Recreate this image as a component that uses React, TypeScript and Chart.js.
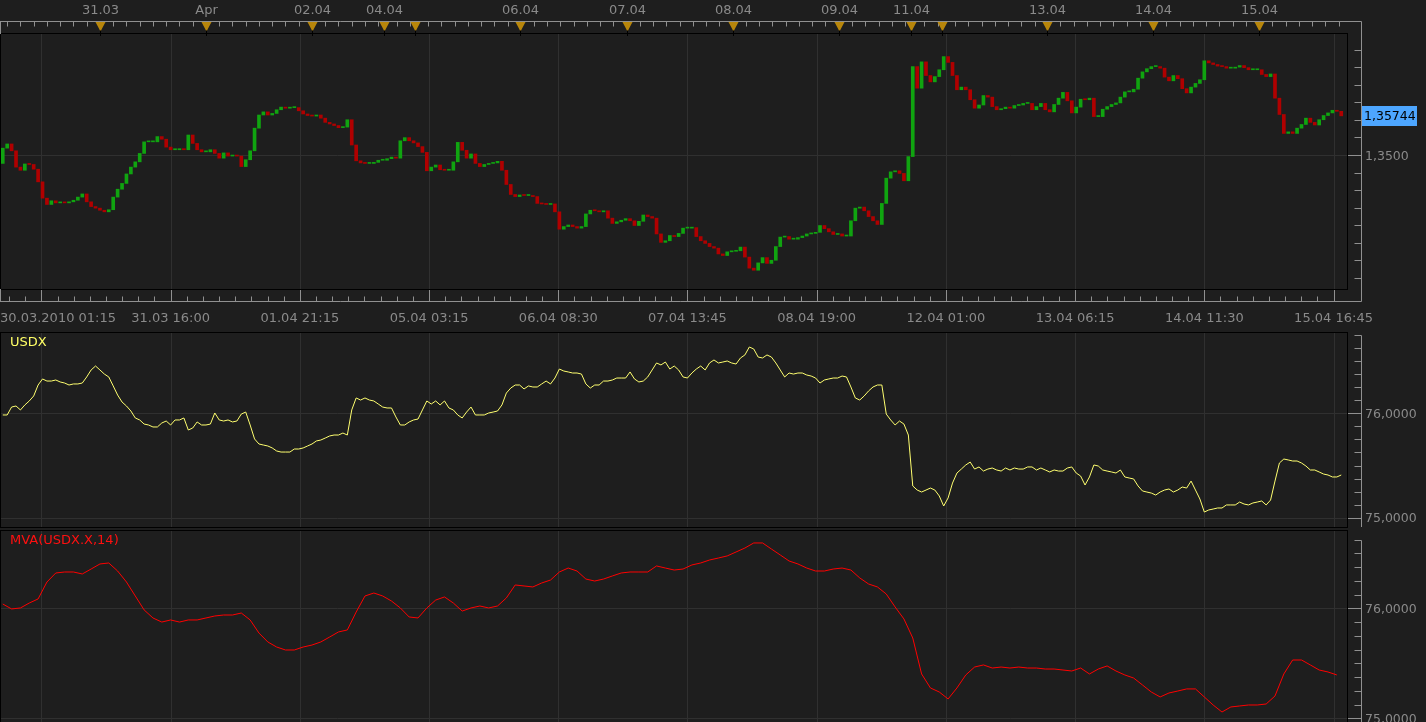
import React, { useEffect, useRef } from 'react';
import { Chart, registerables } from 'chart.js';

Chart.register(...registerables);

// ---------------- data ----------------
// x axis = trading hours since 30.03.2010 00:00 (weekend gaps removed)
const X_MIN = 1.6;
const X_MAX = 306.3;
const FIRST_HOUR = 2; // hour index of the first hourly bar

const eurusdFirstOpen = 1.3484;
const eurusdClose = [
  1.3513, 1.3521, 1.3508, 1.3477, 1.3471, 1.3483, 1.3482, 1.3473, 1.3449, 1.3418,
  1.3406, 1.3413, 1.3409, 1.3410, 1.3409, 1.3411, 1.3414, 1.3420, 1.3426, 1.3411,
  1.3402, 1.3399, 1.3395, 1.3392, 1.3396, 1.3420, 1.3435, 1.3446, 1.3464, 1.3477,
  1.3487, 1.3503, 1.3525, 1.3525, 1.3525, 1.3535, 1.3530, 1.3515, 1.3510, 1.3510,
  1.3512, 1.3510, 1.3538, 1.3522, 1.3510, 1.3506, 1.3506, 1.3510, 1.3503, 1.3494,
  1.3504, 1.3498, 1.3499, 1.3498, 1.3478, 1.3491, 1.3508, 1.3551, 1.3576, 1.3582,
  1.3576, 1.3579, 1.3586, 1.3591, 1.3589, 1.3590, 1.3590, 1.3584, 1.3578, 1.3575,
  1.3574, 1.3576, 1.3570, 1.3562, 1.3559, 1.3556, 1.3552, 1.3553, 1.3567, 1.3519,
  1.3489, 1.3485, 1.3484, 1.3484, 1.3486, 1.3490, 1.3490, 1.3493, 1.3496, 1.3494,
  1.3527, 1.3533, 1.3527, 1.3523, 1.3516, 1.3505, 1.3470, 1.3477, 1.3481, 1.3472,
  1.3471, 1.3471, 1.3487, 1.3524, 1.3509, 1.3494, 1.3502, 1.3484, 1.3478, 1.3482,
  1.3484, 1.3485, 1.3488, 1.3471, 1.3444, 1.3425, 1.3421, 1.3424, 1.3423, 1.3423,
  1.3421, 1.3408, 1.3407, 1.3406, 1.3407, 1.3392, 1.3359, 1.3364, 1.3367, 1.3364,
  1.3361, 1.3364, 1.3388, 1.3395, 1.3394, 1.3392, 1.3394, 1.3380, 1.3370, 1.3373,
  1.3376, 1.3379, 1.3375, 1.3366, 1.3374, 1.3386, 1.3383, 1.3380, 1.3350, 1.3334,
  1.3337, 1.3347, 1.3345, 1.3351,
  1.3361, 1.3361, 1.3362, 1.3345, 1.3337, 1.3332, 1.3326, 1.3323, 1.3312, 1.3309,
  1.3316, 1.3317, 1.3318, 1.3325, 1.3306, 1.3285, 1.3281, 1.3295, 1.3305, 1.3294,
  1.3300, 1.3326, 1.3344, 1.3345, 1.3340, 1.3340, 1.3343, 1.3346, 1.3350, 1.3351,
  1.3353, 1.3366, 1.3360, 1.3354, 1.3349, 1.3350, 1.3346, 1.3346, 1.3375, 1.3399,
  1.3401, 1.3394, 1.3383, 1.3375, 1.3368, 1.3408, 1.3456, 1.3468, 1.3470, 1.3465,
  1.3451, 1.3497, 1.3668, 1.3627, 1.3677, 1.3651, 1.3639, 1.3649, 1.3662, 1.3687,
  1.3676, 1.3651, 1.3624, 1.3629, 1.3624, 1.3605, 1.3589, 1.3595, 1.3613, 1.3610,
  1.3592, 1.3586, 1.3588, 1.3591, 1.3589, 1.3594, 1.3595, 1.3598, 1.3598, 1.3586,
  1.3592, 1.3598, 1.3586, 1.3582, 1.3596, 1.3608, 1.3619, 1.3603, 1.3580, 1.3591,
  1.3606, 1.3605, 1.3608, 1.3573, 1.3573, 1.3587, 1.3592, 1.3596, 1.3599, 1.3610,
  1.3620, 1.3620, 1.3625, 1.3646, 1.3658, 1.3664, 1.3668, 1.3668, 1.3665, 1.3648,
  1.3641, 1.3651, 1.3645, 1.3626, 1.3618, 1.3629, 1.3636, 1.3643, 1.3679, 1.3675,
  1.3672, 1.3669, 1.3668, 1.3665, 1.3665, 1.3667, 1.3670, 1.3666, 1.3662, 1.3662,
  1.3662, 1.3653, 1.3649, 1.3654, 1.3608, 1.3577, 1.3541, 1.3544, 1.3541, 1.3551,
  1.3558, 1.3570, 1.3562, 1.3557, 1.3567, 1.3575, 1.3580, 1.3585, 1.3583, 1.35744,
];

const usdx = [
  75.984, 75.984, 76.060, 76.070, 76.032, 76.080, 76.118, 76.166, 76.271, 76.329,
  76.309, 76.309, 76.319, 76.300, 76.290, 76.271, 76.281, 76.281, 76.290, 76.348,
  76.415, 76.453, 76.415, 76.376, 76.348, 76.262, 76.175, 76.108, 76.070, 76.022,
  75.955, 75.936, 75.897, 75.888, 75.869, 75.869, 75.907, 75.926, 75.888, 75.936,
  75.936, 75.955, 75.840, 75.859, 75.917, 75.888, 75.888, 75.897, 76.003, 75.936,
  75.926, 75.936, 75.917, 75.926, 75.993, 76.012, 75.888, 75.754, 75.706, 75.696,
  75.687, 75.668, 75.639, 75.629, 75.629, 75.629, 75.658, 75.658, 75.668, 75.687,
  75.706, 75.735, 75.744, 75.763, 75.783, 75.792, 75.792, 75.811, 75.792, 76.032,
  76.147, 76.127, 76.147, 76.127, 76.118, 76.089, 76.060, 76.051, 76.051, 75.965,
  75.888, 75.888, 75.917, 75.936, 75.945, 76.032, 76.118, 76.089, 76.118, 76.080,
  76.118, 76.051, 76.032, 75.984, 75.955, 76.012, 76.060, 75.984, 75.984, 75.984,
  76.003, 76.012, 76.022, 76.080, 76.194, 76.242, 76.271, 76.271, 76.233, 76.262,
  76.252, 76.252, 76.281, 76.309, 76.281, 76.338, 76.424, 76.405, 76.396, 76.386,
  76.386, 76.376, 76.281, 76.242, 76.271, 76.271, 76.309, 76.309, 76.319, 76.338,
  76.338, 76.338, 76.396, 76.329, 76.300, 76.309, 76.348, 76.415, 76.482, 76.463,
  76.491, 76.424, 76.453, 76.415, 76.348, 76.338, 76.386, 76.424, 76.453, 76.415,
  76.482, 76.511, 76.482, 76.491, 76.501, 76.482, 76.472, 76.530, 76.559, 76.635,
  76.616, 76.539, 76.530, 76.559, 76.539, 76.482, 76.415, 76.348, 76.386, 76.376,
  76.386, 76.386, 76.367, 76.357, 76.338, 76.290, 76.319, 76.329, 76.338, 76.338,
  76.357, 76.348, 76.252, 76.147, 76.127, 76.166, 76.214, 76.252, 76.271, 76.271,
  75.993, 75.936, 75.888, 75.926, 75.897, 75.792, 75.304, 75.265, 75.246, 75.265,
  75.284, 75.265, 75.208, 75.112, 75.189, 75.332, 75.428, 75.466, 75.505, 75.533,
  75.466, 75.486, 75.447, 75.466, 75.476, 75.457, 75.447, 75.476, 75.457, 75.476,
  75.466, 75.466, 75.486, 75.486, 75.457, 75.476, 75.457, 75.438, 75.457, 75.447,
  75.447, 75.476, 75.486, 75.428, 75.399, 75.313, 75.390, 75.505, 75.495, 75.457,
  75.447, 75.438, 75.428, 75.457, 75.390, 75.380, 75.371, 75.304, 75.256, 75.246,
  75.236, 75.217, 75.246, 75.265, 75.275, 75.246, 75.265, 75.294, 75.284, 75.351,
  75.265, 75.179, 75.054, 75.074, 75.083, 75.093, 75.093, 75.122, 75.122, 75.122,
  75.150, 75.131, 75.122, 75.141, 75.150, 75.160, 75.122, 75.169, 75.351, 75.524,
  75.562, 75.553, 75.543, 75.543, 75.524, 75.495, 75.457, 75.457, 75.438, 75.418,
  75.409, 75.390, 75.390, 75.409,
];

const MVA_FIRST_HOUR = 2;
const MVA_STEP_HOURS = 2;
const mva = [
  76.039, 75.994, 76.003, 76.048, 76.085, 76.239, 76.321, 76.330, 76.330, 76.312,
  76.357, 76.403, 76.412, 76.339, 76.239, 76.112, 75.985, 75.912, 75.875, 75.894,
  75.875, 75.894, 75.894, 75.912, 75.930, 75.939, 75.939, 75.957, 75.894, 75.775,
  75.694, 75.648, 75.621, 75.621, 75.648, 75.666, 75.694, 75.739, 75.785, 75.803,
  75.966, 76.112, 76.139, 76.112, 76.066, 76.003, 75.921, 75.912, 76.003, 76.075,
  76.103, 76.048, 75.975, 76.003, 76.021, 76.003, 76.021, 76.094, 76.212, 76.203,
  76.194, 76.230, 76.257, 76.330, 76.366, 76.339, 76.266, 76.248, 76.266, 76.294,
  76.321, 76.330, 76.330, 76.330, 76.385, 76.366, 76.348, 76.357, 76.394, 76.412,
  76.439, 76.457, 76.476, 76.512, 76.548, 76.594, 76.594, 76.539, 76.485, 76.430,
  76.403, 76.366, 76.339, 76.339, 76.357, 76.366, 76.348, 76.276, 76.221, 76.194,
  76.130, 76.012, 75.903, 75.730, 75.403, 75.276, 75.239, 75.176, 75.276, 75.394,
  75.466, 75.485, 75.457, 75.466, 75.457, 75.466, 75.457, 75.457, 75.448, 75.448,
  75.439, 75.430, 75.457, 75.403, 75.448, 75.476, 75.430, 75.394, 75.366, 75.303,
  75.239, 75.194, 75.230, 75.248, 75.267, 75.267, 75.194, 75.121, 75.057, 75.103,
  75.112, 75.121, 75.121, 75.130, 75.203, 75.403, 75.530, 75.530, 75.485, 75.439,
  75.421, 75.394,
];

const dayMarkHours = [24, 48, 72, 88.3, 95.3, 119.2, 143.2, 167.2, 191.3, 207.6, 214.6, 238.4, 262.4, 286.4];
const dayMarkLabels = ['31.03', 'Apr', '02.04', '04.04', '', '06.04', '07.04', '08.04', '09.04', '11.04', '', '13.04', '14.04', '15.04'];
const gridHours = [10.75, 40, 69.25, 98.5, 127.75, 157, 186.25, 215.5, 244.75, 274, 303.25];
const gridLabels = ['30.03.2010 01:15', '31.03 16:00', '01.04 21:15', '05.04 03:15', '06.04 08:30', '07.04 13:45', '08.04 19:00', '12.04 01:00', '13.04 06:15', '14.04 11:30', '15.04 16:45'];
const priceMajorTicks = [1.35];
const usdxMajorTicks = [75, 76];
const lastPriceLabel = '1,35744';

// ---------------- style ----------------
const BG = '#1e1e1e';
const GRID = '#303030';
const TEXT = '#8a8a8a';
const RULER = '#909090';
const GOLD = '#b8860b';
const UP = '#10a410';
const DOWN = '#b00000';
const FONT = '13px "DejaVu Sans"';
const PRICE_FONT = '12.5px "DejaVu Sans"';
const AX = 1361.5;

const fmtComma = (digits: number) => (v: number) => v.toFixed(digits).replace('.', ',');

type PanelOpts = {
  id: string;
  step: number;
  majors: number[];
  fmt: (v: number) => string;
  axisFrom?: number;
  axisTo: number;
  legend?: { text: string; color: string; y: number };
  topRuler?: boolean;
  bottomRuler?: boolean;
  last?: { value: number; text: string };
};

function panelPlugin(o: PanelOpts) {
  return {
    id: o.id,
    beforeDatasetsDraw(chart: any) {
      const { ctx, chartArea: a } = chart;
      const xs = chart.scales.x;
      const ys = chart.scales.y;
      ctx.save();
      ctx.beginPath();
      ctx.rect(a.left, a.top, a.right - a.left, a.bottom - a.top);
      ctx.clip();
      ctx.strokeStyle = GRID;
      ctx.lineWidth = 1;
      ctx.beginPath();
      for (const h of gridHours) {
        const px = Math.round(xs.getPixelForValue(h)) + 0.5;
        ctx.moveTo(px, a.top);
        ctx.lineTo(px, a.bottom);
      }
      for (const v of o.majors) {
        const py = Math.round(ys.getPixelForValue(v)) + 0.5;
        ctx.moveTo(a.left, py);
        ctx.lineTo(a.right, py);
      }
      ctx.stroke();
      ctx.restore();
    },
    afterDraw(chart: any) {
      const { ctx, chartArea: a } = chart;
      const xs = chart.scales.x;
      const ys = chart.scales.y;
      ctx.save();
      ctx.lineWidth = 1;
      // panel frame
      ctx.strokeStyle = '#000000';
      ctx.strokeRect(a.left - 0.5, a.top - 0.5, a.right - a.left + 1, a.bottom - a.top + 1);

      // right value axis
      ctx.strokeStyle = RULER;
      ctx.beginPath();
      const i0 = Math.ceil(ys.min / o.step - 1e-6);
      const i1 = Math.floor(ys.max / o.step + 1e-6);
      let topTick = Infinity;
      for (let i = i0; i <= i1; i++) {
        const v = i * o.step;
        const py = Math.round(ys.getPixelForValue(v)) + 0.5;
        if (py < a.top || py > a.bottom) continue;
        topTick = Math.min(topTick, py);
        const major = o.majors.some((m) => Math.abs(m - v) < 1e-9);
        ctx.moveTo(major ? a.right + 1 : AX - 7, py);
        ctx.lineTo(AX, py);
      }
      const from = o.axisFrom !== undefined ? o.axisFrom : topTick;
      ctx.moveTo(AX, from);
      ctx.lineTo(AX, o.axisTo);
      ctx.stroke();

      ctx.font = PRICE_FONT;
      ctx.fillStyle = TEXT;
      ctx.textAlign = 'left';
      ctx.textBaseline = 'middle';
      for (const m of o.majors) {
        const py = ys.getPixelForValue(m);
        ctx.fillText(o.fmt(m), 1365, py + 1.5);
      }

      if (o.last) {
        const py = Math.round(ys.getPixelForValue(o.last.value));
        ctx.fillStyle = '#4da6ff';
        ctx.fillRect(1362, py - 10, 55, 20);
        ctx.fillStyle = '#000000';
        ctx.fillText(o.last.text, 1364, py + 1);
      }

      if (o.legend) {
        ctx.font = FONT;
        ctx.fillStyle = o.legend.color;
        ctx.fillText(o.legend.text, 10, o.legend.y);
      }

      if (o.topRuler) {
        const RY = 21.5;
        ctx.strokeStyle = RULER;
        ctx.beginPath();
        ctx.moveTo(0, RY);
        ctx.lineTo(AX, RY);
        ctx.moveTo(0.5, RY);
        ctx.lineTo(0.5, a.top);
        const starts = [0, ...dayMarkHours];
        for (let d = 0; d < starts.length; d++) {
          const end = d + 1 < starts.length ? starts[d + 1] : X_MAX;
          for (let h = starts[d] + 3; h < end - 0.5; h += 3) {
            if (h < X_MIN) continue;
            const px = Math.round(xs.getPixelForValue(h)) + 0.5;
            ctx.moveTo(px, RY);
            ctx.lineTo(px, RY + 5);
          }
        }
        ctx.stroke();
        ctx.font = FONT;
        ctx.textAlign = 'center';
        for (let i = 0; i < dayMarkHours.length; i++) {
          const px = Math.round(xs.getPixelForValue(dayMarkHours[i])) + 0.5;
          ctx.fillStyle = GOLD;
          ctx.beginPath();
          ctx.moveTo(px - 5, RY + 0.5);
          ctx.lineTo(px + 5, RY + 0.5);
          ctx.lineTo(px, RY + 10);
          ctx.closePath();
          ctx.fill();
          ctx.strokeStyle = '#000000';
          ctx.beginPath();
          ctx.moveTo(px, RY + 9);
          ctx.lineTo(px, a.top + 2);
          ctx.stroke();
          if (dayMarkLabels[i]) {
            ctx.fillStyle = TEXT;
            ctx.fillText(dayMarkLabels[i], px, 10.5);
          }
        }
      }

      if (o.bottomRuler) {
        const BY = 301.5;
        ctx.strokeStyle = RULER;
        ctx.beginPath();
        ctx.moveTo(0, BY);
        ctx.lineTo(AX, BY);
        ctx.moveTo(0.5, a.bottom);
        ctx.lineTo(0.5, BY);
        const sub = (gridHours[1] - gridHours[0]) / 8;
        for (let k = -3; k <= gridHours.length * 8; k++) {
          const h = gridHours[0] + k * sub;
          if (h < X_MIN || h > X_MAX) continue;
          const px = Math.round(xs.getPixelForValue(h)) + 0.5;
          ctx.moveTo(px, k % 8 === 0 ? a.bottom + 1 : BY - 5);
          ctx.lineTo(px, BY);
        }
        ctx.stroke();
        ctx.font = FONT;
        ctx.fillStyle = TEXT;
        for (let i = 0; i < gridHours.length; i++) {
          const px = xs.getPixelForValue(gridHours[i]);
          if (i === 0) {
            ctx.textAlign = 'left';
            ctx.fillText(gridLabels[i], 0, 318.5);
          } else {
            ctx.textAlign = 'center';
            ctx.fillText(gridLabels[i], px, 318.5);
          }
        }
      }
      ctx.restore();
    },
  };
}

const xScale = { type: 'linear', min: X_MIN, max: X_MAX, display: false, offset: false };

function baseOptions(padding: any, yMin: number, yMax: number) {
  return {
    animation: false,
    responsive: false,
    maintainAspectRatio: false,
    events: [],
    layout: { padding },
    scales: {
      x: xScale,
      y: { type: 'linear', min: yMin, max: yMax, display: false },
    },
    plugins: { legend: { display: false }, tooltip: { enabled: false } },
  };
}

export default function App() {
  const r1 = useRef<HTMLCanvasElement>(null);
  const r2 = useRef<HTMLCanvasElement>(null);
  const r3 = useRef<HTMLCanvasElement>(null);

  useEffect(() => {
    const candles = eurusdClose.map((c, i) => ({
      x: FIRST_HOUR + i,
      y: [i === 0 ? eurusdFirstOpen : eurusdClose[i - 1], c],
    }));
    const candleColors = candles.map((d) => (d.y[1] >= d.y[0] ? UP : DOWN));
    const usdxPts = usdx.map((v, i) => ({ x: FIRST_HOUR + i, y: v }));
    const mvaPts = mva.map((v, i) => ({ x: MVA_FIRST_HOUR + i * MVA_STEP_HOURS, y: v }));

    const c1 = new Chart(r1.current as HTMLCanvasElement, {
      type: 'bar',
      data: {
        datasets: [
          {
            data: candles as any,
            backgroundColor: candleColors,
            borderWidth: 0,
            barThickness: 3,
            minBarLength: 1,
            grouped: false,
          } as any,
        ],
      },
      options: baseOptions({ left: 1, top: 34, right: 79, bottom: 44 }, 1.324535, 1.372995) as any,
      plugins: [
        panelPlugin({
          id: 'p1',
          step: 1 / 300,
          majors: priceMajorTicks,
          fmt: fmtComma(4),
          axisFrom: 21.5,
          axisTo: 301.5,
          topRuler: true,
          bottomRuler: true,
          last: { value: eurusdClose[eurusdClose.length - 1], text: lastPriceLabel },
        }) as any,
      ],
    });

    const c2 = new Chart(r2.current as HTMLCanvasElement, {
      type: 'line',
      data: {
        datasets: [
          {
            data: usdxPts as any,
            borderColor: '#ffff70',
            borderWidth: 1,
            pointRadius: 0,
            tension: 0,
            fill: false,
          },
        ],
      },
      options: baseOptions({ left: 1, top: 1, right: 79, bottom: 2 }, 74.9109, 76.7692) as any,
      plugins: [
        panelPlugin({
          id: 'p2',
          step: 0.125,
          majors: usdxMajorTicks,
          fmt: fmtComma(4),
          axisTo: 195,
          legend: { text: 'USDX', color: '#ffff66', y: 11 },
        }) as any,
      ],
    });

    const c3 = new Chart(r3.current as HTMLCanvasElement, {
      type: 'line',
      data: {
        datasets: [
          {
            data: mvaPts as any,
            borderColor: '#ff0000',
            borderWidth: 1,
            pointRadius: 0,
            tension: 0,
            fill: false,
          },
        ],
      },
      options: baseOptions({ left: 1, top: 2, right: 79, bottom: 0 }, 74.93, 76.7027) as any,
      plugins: [
        panelPlugin({
          id: 'p3',
          step: 0.125,
          majors: usdxMajorTicks,
          fmt: fmtComma(4),
          axisTo: 197,
          legend: { text: 'MVA(USDX.X,14)', color: '#ff1010', y: 12 },
        }) as any,
      ],
    });

    return () => {
      c1.destroy();
      c2.destroy();
      c3.destroy();
    };
  }, []);

  const cv = (top: number, h: number): React.CSSProperties => ({
    position: 'absolute',
    left: 0,
    top,
    width: 1426,
    height: h,
    display: 'block',
  });

  return (
    <div
      style={{
        position: 'fixed',
        left: 0,
        top: 0,
        width: 1426,
        height: 722,
        overflow: 'hidden',
        background: BG,
      }}
    >
      <canvas ref={r1} width={1426} height={333} style={cv(0, 333)} />
      <canvas ref={r2} width={1426} height={197} style={cv(332, 197)} />
      <canvas ref={r3} width={1426} height={197} style={cv(529, 197)} />
    </div>
  );
}
